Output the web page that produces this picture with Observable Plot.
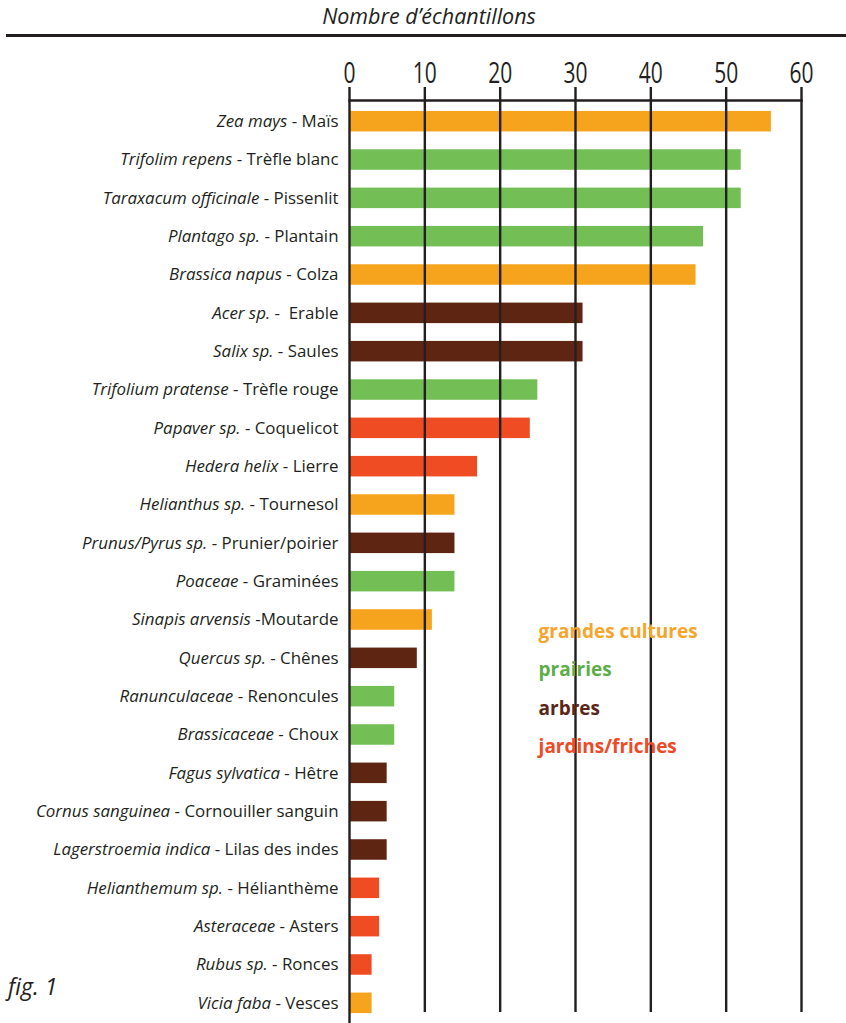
<!DOCTYPE html>
<html><head><meta charset="utf-8">
<script src="https://cdn.jsdelivr.net/npm/d3@7"></script>
<script src="https://cdn.jsdelivr.net/npm/@observablehq/plot@0.6"></script>
<style>
body{margin:0;background:#fff;}
#wrap{position:relative;width:846px;height:1023px;overflow:hidden;font-family:"Open Sans",sans-serif;color:#231f20}
#title{position:absolute;left:0;width:858px;top:2px;text-align:center;font-style:italic;font-size:21.5px;line-height:28px}
#rule{position:absolute;left:6px;right:0;top:34px;height:2.5px;background:#231f20}
#chart{position:absolute;top:40px;left:0}
#fig{position:absolute;left:8px;top:972px;font-style:italic;font-size:23px;line-height:28px}
</style></head><body>
<div id="wrap">
<div id="title">Nombre d’échantillons</div>
<div id="rule"></div>
<div id="chart"></div>
<div id="fig">fig. 1</div>
</div>
<script>
const latin = ["Zea mays","Trifolim repens","Taraxacum officinale","Plantago sp.","Brassica napus","Acer sp.","Salix sp.","Trifolium pratense","Papaver sp.","Hedera helix","Helianthus sp.","Prunus/Pyrus sp.","Poaceae","Sinapis arvensis","Quercus sp.","Ranunculaceae","Brassicaceae","Fagus sylvatica","Cornus sanguinea","Lagerstroemia indica","Helianthemum sp.","Asteraceae","Rubus sp.","Vicia faba"];
const common = [" - Maïs"," - Trèfle blanc"," - Pissenlit"," - Plantain"," - Colza"," -  Erable"," - Saules"," - Trèfle rouge"," - Coquelicot"," - Lierre"," - Tournesol"," - Prunier/poirier"," - Graminées"," -Moutarde"," - Chênes"," - Renoncules"," - Choux"," - Hêtre"," - Cornouiller sanguin"," - Lilas des indes"," - Hélianthème"," - Asters"," - Ronces"," - Vesces"];
const counts = [56,52,52,47,46,31,31,25,24,17,14,14,14,11,9,6,6,5,5,5,4,4,3,3];
const groups = ["grandes cultures","prairies","prairies","prairies","grandes cultures","arbres","arbres","prairies","jardins/friches","jardins/friches","grandes cultures","arbres","prairies","grandes cultures","arbres","prairies","prairies","arbres","arbres","arbres","jardins/friches","jardins/friches","jardins/friches","grandes cultures"];
const groupNames = ["grandes cultures","prairies","arbres","jardins/friches"];
const groupColors = ["#F6A41E","#73BF56","#5E2513","#EF4C24"];
const legendColors = ["#F6A52A","#5DAE48","#5A2717","#EE4A25"];
const xTicks = [0,10,20,30,40,50,60];

const data = latin.map((l,i)=>({latin:l, common:common[i], n:counts[i], group:groups[i]}));
const legend = groupNames.map((g,i)=>({g, row: latin[13+i], c: legendColors[i]}));
const ink = "#231f20";

const plot = Plot.plot({
  width: 846, height: 983,
  marginLeft: 349, marginRight: 45, marginTop: 60, marginBottom: 11,
  style: {fontFamily: "'Open Sans', sans-serif", fontSize: "16.9px", color: ink, background: "#fff"},
  x: {domain:[0,60], axis:"top", ticks: xTicks, tickSize: 0, tickPadding: 18, label: null},
  y: {domain: latin, range:[62, 982], round: false, paddingInner:0.465, paddingOuter:0.233, label:null, tickSize:0, tickPadding: 11},
  color: {domain: groupNames, range: groupColors},
  marks: [
    Plot.barX(data, {x:"n", y:"latin", fill:"group"}),
    Plot.ruleX(xTicks.slice(1), {stroke: ink, strokeWidth: 2.4, insetTop: -13}),
    Plot.ruleX([0], {stroke: ink, strokeWidth: 2.4, insetTop: -13, insetBottom: -11}),
    Plot.frame({anchor: "top", stroke: ink, strokeWidth: 2.4}),
    Plot.text(legend, {x: 25.1, y:"row", text:"g", fill: "c", dy: 12, textAnchor:"start", fontWeight:"bold", fontSize: 19})
  ]
});

const svg = d3.select(plot);
svg.selectAll('g[aria-label="x-axis tick label"]')
  .attr("font-family", "'Open Sans',sans-serif")
  .attr("font-size", 30);
svg.selectAll('g[aria-label="x-axis tick label"] text').each(function(){
  const tr = this.getAttribute("transform") || "";
  const x = +this.getAttribute("x") || 0, y = +this.getAttribute("y") || 0;
  this.removeAttribute("x"); this.removeAttribute("y");
  this.setAttribute("transform", `${tr} translate(${x},${y}) scale(0.7,1)`);
});
svg.selectAll('g[aria-label="y-axis tick label"] text').each(function(){
  const t = d3.select(this);
  const key = this.textContent;
  const i = latin.indexOf(key);
  if (i < 0) return;
  t.text(null);
  t.append("tspan").attr("font-style","italic").text(latin[i]);
  t.append("tspan").attr("xml:space","preserve").style("white-space","pre").text(common[i]);
});
svg.selectAll('g[aria-label="text"]').attr("font-family","'Open Sans',sans-serif");
document.getElementById("chart").appendChild(plot);
</script>
</body></html>
